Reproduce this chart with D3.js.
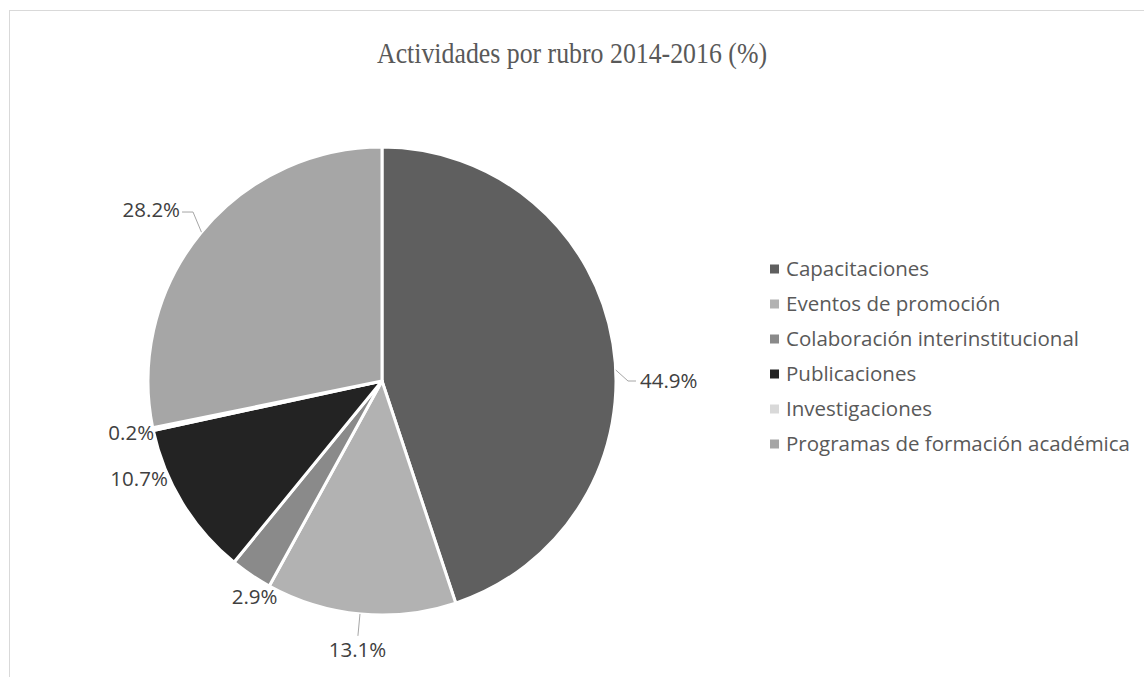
<!DOCTYPE html>
<html>
<head>
<meta charset="utf-8">
<script src="https://cdn.jsdelivr.net/npm/d3@7"></script>
<style>
  body { margin: 0; background: #fff; }
  svg { display: block; }
</style>
</head>
<body>
<div id="chart"></div>
<script>
// data
const categories = ["Capacitaciones", "Eventos de promoción", "Colaboración interinstitucional",
    "Publicaciones", "Investigaciones", "Programas de formación académica"];
const values = [44.9, 13.1, 2.9, 10.7, 0.2, 28.2];
const shades = ["#5f5f5f", "#b2b2b2", "#8a8a8a", "#232323", "#d9d9d9", "#a6a6a6"];

const W = 1144, H = 677;
const cx = 382, cy = 381, radius = 234;
const font = "'Open Sans', 'Noto Sans', sans-serif";

const svg = d3.select("#chart").append("svg")
    .attr("width", W)
    .attr("height", H);

// chart area frame (cut off at right and bottom)
svg.append("rect")
    .attr("x", 9.5).attr("y", 10.5)
    .attr("width", W + 20).attr("height", H + 20)
    .attr("fill", "none")
    .attr("stroke", "#d9d9d9");

svg.append("text")
    .attr("x", 572).attr("y", 63)
    .attr("text-anchor", "middle")
    .attr("textLength", 390)
    .attr("lengthAdjust", "spacingAndGlyphs")
    .style("font-family", "'Liberation Serif', serif")
    .style("font-size", "30px")
    .attr("fill", "#595959")
    .text("Actividades por rubro 2014-2016 (%)");

const data = categories.map((c, i) => ({name: c, value: values[i], color: shades[i]}));

const pie = d3.pie().sort(null).value(d => d.value);
const arc = d3.arc().innerRadius(0).outerRadius(radius);
const arcs = pie(data);

const g = svg.append("g").attr("transform", "translate(" + cx + "," + cy + ")");

g.selectAll("path.slice")
    .data(arcs)
    .enter()
    .append("path")
        .attr("class", "slice")
        .attr("d", arc)
        .attr("fill", d => d.data.color)
        .attr("stroke", "#fff")
        .attr("stroke-width", 3)
        .attr("stroke-linejoin", "round");

// label placement, roughly where Excel's best fit put them (degrees clockwise from top)
const labelPos = [
    {a: 90, r: 258, anchor: "start", line: [[87.3, radius], [90, 246], [90, 254]]},
    {a: 185.2, r: 270, anchor: "middle", line: [[185.4, radius], [185.4, 256]]},
    {a: 210.5, r: 251, anchor: "middle"},
    {a: 248, r: 262, anchor: "middle"},
    {a: 258.4, r: 256, anchor: "middle"},
    {a: 306.5, r: 287, anchor: "middle", line: [[309.5, radius], [311.8, 253.5], [310.2, 261.8]]}
];

const polar = (deg, r) => {
    const t = deg * Math.PI / 180;
    return [r * Math.sin(t), -r * Math.cos(t)];
};

const labels = g.selectAll("g.label")
    .data(arcs)
    .enter()
    .append("g")
        .attr("class", "label");

labels.filter(d => labelPos[d.index].line)
    .append("polyline")
        .attr("points", d => labelPos[d.index].line.map(p => polar(p[0], p[1]).join(",")).join(" "))
        .attr("fill", "none")
        .attr("stroke", "#a6a6a6")
        .attr("stroke-width", 1);

labels.append("text")
    .attr("x", d => polar(labelPos[d.index].a, labelPos[d.index].r)[0])
    .attr("y", d => polar(labelPos[d.index].a, labelPos[d.index].r)[1])
    .attr("dy", "0.35em")
    .attr("text-anchor", d => labelPos[d.index].anchor)
    .style("font-family", font)
    .style("font-size", "20.5px")
    .attr("fill", "#404040")
    .text(d => d3.format(".1f")(d.data.value) + "%");

// legend
const legendY = d3.scalePoint().domain(categories).range([269, 444]);

const legend = svg.append("g").attr("class", "legend")
    .selectAll("g")
    .data(data)
    .enter()
    .append("g")
        .attr("transform", d => "translate(770," + legendY(d.name) + ")");

legend.append("rect")
    .attr("x", 0).attr("y", -4.5)
    .attr("width", 9).attr("height", 9)
    .attr("fill", d => d.color);

legend.append("text")
    .attr("x", 16)
    .attr("dy", "0.35em")
    .style("font-family", font)
    .style("font-size", "20.5px")
    .attr("fill", "#595959")
    .text(d => d.name);
</script>
</body>
</html>
